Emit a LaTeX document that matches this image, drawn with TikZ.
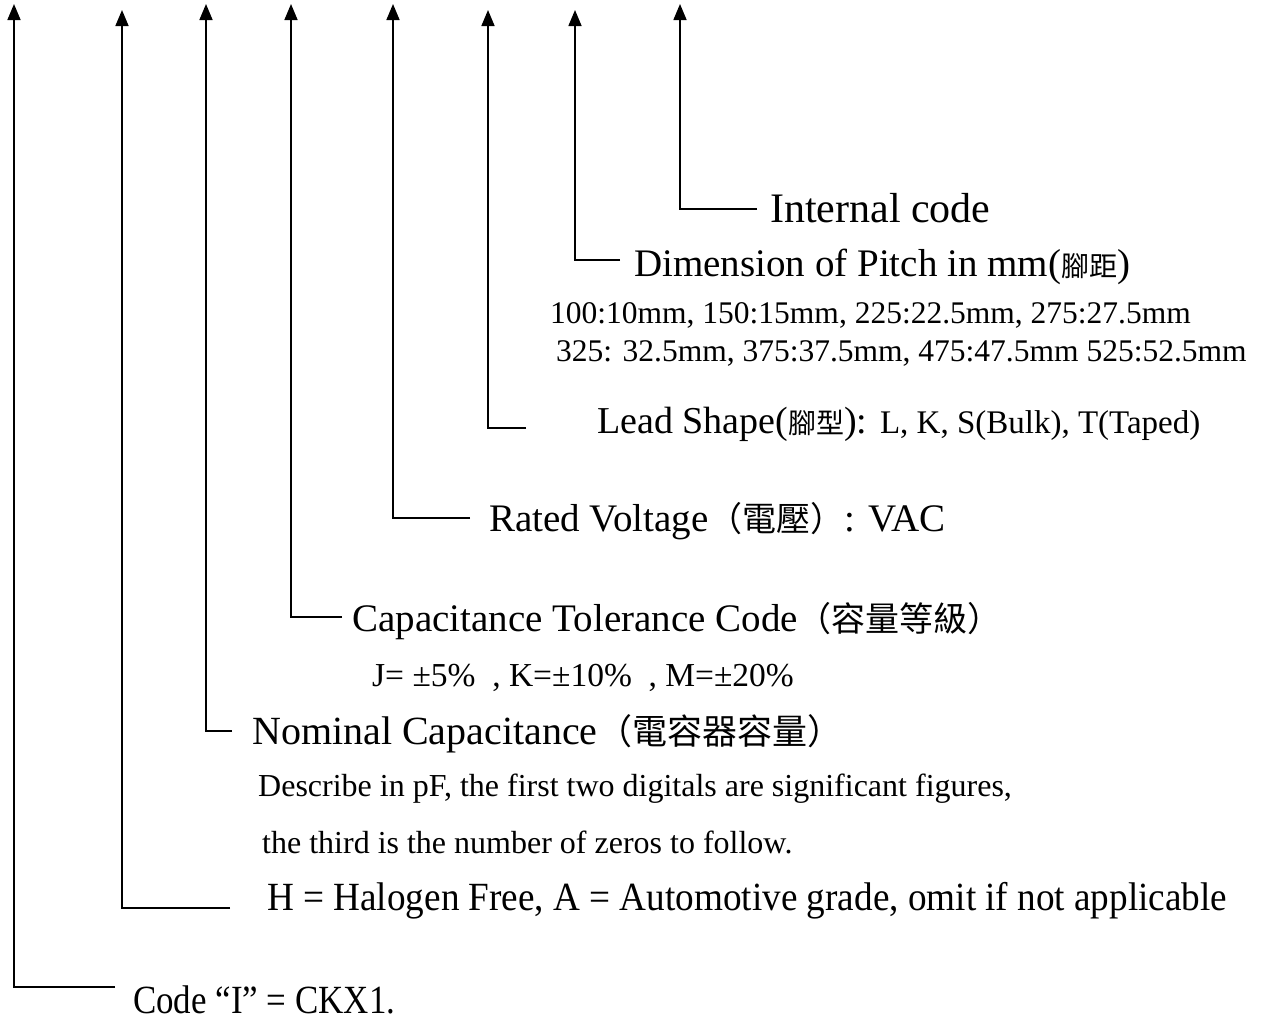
\documentclass[tikz,border=0pt]{standalone}
\usepackage{fontspec}
\usepackage{graphicx}
\setmainfont{Liberation Serif}
\newfontfamily\cjk{Noto Sans CJK TC}
\usetikzlibrary{arrows.meta}
\newcommand\fs[1]{\fontsize{#1}{#1}\selectfont}
\newcommand\cj[2]{{\cjk\fs{#1}#2}}
\tikzset{
  lead/.style={line width=1.6pt,-{Triangle[length=16pt,width=13pt]}},
  lbl/.style={anchor=base west,inner sep=0pt,font=\fs{39}}
}
\begin{document}
\begin{tikzpicture}[x=1pt,y=-1pt]
\useasboundingbox (0,0) rectangle (1271,1021);
% arrow tips
\coordinate (t1) at (14,4);
\coordinate (t2) at (122,10);
\coordinate (t3) at (206,4);
\coordinate (t4) at (291,4);
\coordinate (t5) at (393,4);
\coordinate (t6) at (488,10);
\coordinate (t7) at (575,10);
\coordinate (t8) at (680,4);
% line ends
\coordinate (e1) at (115,987);
\coordinate (e2) at (230,908);
\coordinate (e3) at (232,731);
\coordinate (e4) at (342,617);
\coordinate (e5) at (470,518);
\coordinate (e6) at (526,428);
\coordinate (e7) at (620,260);
\coordinate (e8) at (757,209);
% texts
\node[lbl,font=\fs{42}] (n8) at (770,222) {Internal code};
\node[lbl] (n7) at (634,276) {Dimension of Pitch in mm(\cj{28}{腳距})};
\node[lbl,font=\fs{31.5}] (n7a) at (550,323) {100:10mm, 150:15mm, 225:22.5mm, 275:27.5mm};
\node[lbl,font=\fs{31.5}] (n7b) at (556,361) {325: 32.5mm, 375:37.5mm, 475:47.5mm 525:52.5mm};
\node[lbl,font=\fs{38}] (n6) at (597,433) {Lead Shape(\cj{28}{腳型}): {\fs{33}L, K, S(Bulk), T(Taped)}};
\node[lbl] (n5) at (489,531) {Rated Voltage\cj{34}{（電壓）}: VAC};
\node[lbl] (n4) at (352,631) {Capacitance Tolerance Code\cj{34}{（容量等級）}};
\node[lbl,font=\fs{33.5}] (n4a) at (372,686) {J= ±5\%\ \ , K=±10\%\ \ , M=±20\%};
\node[lbl,font=\fs{40}] (n3) at (252,744) {Nominal Capacitance\cj{35}{（電容器容量）}};
\node[lbl,font=\fs{32}] (n3a) at (258,796) {Describe in pF, the first two digitals are significant figures,};
\node[lbl,font=\fs{32}] (n3b) at (262,853) {the third is the number of zeros to follow.};
\node[lbl,font=\fs{40}] (n2) at (267,910) {\resizebox{960pt}{\height}{H = Halogen Free, A = Automotive grade, omit if not applicable}};
\node[lbl,font=\fs{40}] (n1) at (133,1013) {\resizebox{262pt}{\height}{Code “I” = CKX1.}};
% leaders
\draw[lead] (e1) -| (t1);
\draw[lead] (e2) -| (t2);
\draw[lead] (e3) -| (t3);
\draw[lead] (e4) -| (t4);
\draw[lead] (e5) -| (t5);
\draw[lead] (e6) -| (t6);
\draw[lead] (e7) -| (t7);
\draw[lead] (e8) -| (t8);
\end{tikzpicture}
\end{document}
